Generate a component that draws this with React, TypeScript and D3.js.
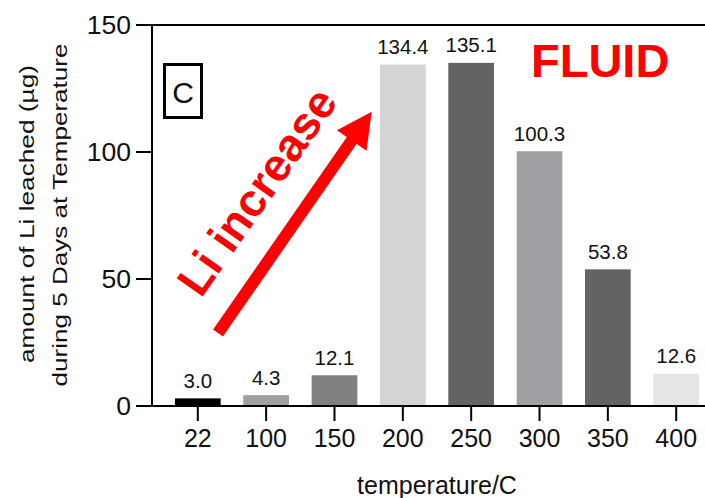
import React from "react";
import * as d3 from "d3";

const categories = ["22", "100", "150", "200", "250", "300", "350", "400"];
const values = [3.0, 4.3, 12.1, 134.4, 135.1, 100.3, 53.8, 12.6];
const valueLabels = ["3.0", "4.3", "12.1", "134.4", "135.1", "100.3", "53.8", "12.6"];
const barColors = ["#000000", "#a0a0a4", "#808080", "#d4d4d4", "#636363", "#a0a0a4", "#636363", "#e6e6e6"];
const yTicks = [0, 50, 100, 150];

const W = 705;
const H = 498;
const FONT = "'Liberation Sans', Arial, Helvetica, sans-serif";

export default function App() {
  const x0 = 152;
  const x = d3
    .scaleBand<string>()
    .domain(categories)
    .range([x0, 722])
    .paddingInner(0.331)
    .paddingOuter(0.3357);
  const y = d3.scaleLinear().domain([0, 150]).range([406, 25]);

  // arrow geometry
  const tail: [number, number] = [218, 333];
  const tip: [number, number] = [371.7, 111.7];
  const dx = tip[0] - tail[0];
  const dy = tip[1] - tail[1];
  const len = Math.sqrt(dx * dx + dy * dy);
  const ang = (Math.atan2(dy, dx) * 180) / Math.PI;
  const headLen = 35;
  const headW = 36;
  const shaftW = 12;

  return (
    <svg width={W} height={H} style={{ position: "absolute", left: 0, top: 0, background: "#fff" }} fontFamily={FONT}>
      <rect x={0} y={0} width={W} height={H} fill="#fff" />
      {/* bars */}
      {categories.map((c, i) => (
        <g key={c}>
          <rect
            x={x(c)}
            y={y(values[i])}
            width={x.bandwidth()}
            height={y(0) - y(values[i])}
            fill={barColors[i]}
          />
          <text
            x={(x(c) as number) + x.bandwidth() / 2}
            y={y(values[i]) - 10.5}
            textAnchor="middle"
            fontSize={20.5}
            fill="#111"
          >
            {valueLabels[i]}
          </text>
        </g>
      ))}
      {/* axes */}
      <line x1={x0} x2={W} y1={y(150)} y2={y(150)} stroke="#000" strokeWidth={2.2} />
      <line x1={x0} x2={W} y1={y(0)} y2={y(0)} stroke="#000" strokeWidth={2} />
      <line x1={x0} x2={x0} y1={y(150) - 1} y2={y(0) + 1} stroke="#000" strokeWidth={2} />
      {yTicks.map((t) => (
        <g key={t}>
          <line x1={x0 - 16} x2={x0} y1={y(t)} y2={y(t)} stroke="#000" strokeWidth={2} />
          <text x={131} y={y(t) + 8.8} textAnchor="end" fontSize={26.6} fill="#111">
            {t}
          </text>
        </g>
      ))}
      {categories.map((c) => {
        const cx = (x(c) as number) + x.bandwidth() / 2;
        return (
          <g key={"t" + c}>
            <line x1={cx} x2={cx} y1={y(0)} y2={y(0) + 15} stroke="#000" strokeWidth={2} />
            <text x={cx} y={446.7} textAnchor="middle" fontSize={25} fill="#111">
              {c}
            </text>
          </g>
        );
      })}
      {/* axis titles */}
      <text x={437} y={494} textAnchor="middle" fontSize={25} fill="#111">
        temperature/C
      </text>
      <g transform="translate(34,214) rotate(-90)">
        <text x={0} y={0} textAnchor="middle" fontSize={21} fill="#111" textLength={298} lengthAdjust="spacingAndGlyphs">
          amount of Li leached (µg)
        </text>
      </g>
      <g transform="translate(66.5,215) rotate(-90)">
        <text x={0} y={0} textAnchor="middle" fontSize={21} fill="#111" textLength={343} lengthAdjust="spacingAndGlyphs">
          during 5 Days at Temperature
        </text>
      </g>
      {/* panel label */}
      <rect x={164.5} y={64.5} width={37} height={53} fill="none" stroke="#000" strokeWidth={3} />
      <text x={183} y={103} textAnchor="middle" fontSize={30} fill="#111">
        C
      </text>
      {/* FLUID */}
      <text x={531} y={77} fontSize={47} fontWeight="bold" fill="#ff0000">
        FLUID
      </text>
      {/* arrow */}
      <g transform={`translate(${tail[0]},${tail[1]}) rotate(${ang})`}>
        <rect x={0} y={-shaftW / 2} width={len - headLen + 2} height={shaftW} fill="#ff0000" />
        <polygon points={`${len},0 ${len - headLen},${-headW / 2} ${len - headLen},${headW / 2}`} fill="#ff0000" />
      </g>
      <text
        transform="translate(201,299) rotate(-55)"
        fontSize={46}
        fontWeight="bold"
        fill="#ff0000"
      >
        Li increase
      </text>
    </svg>
  );
}
